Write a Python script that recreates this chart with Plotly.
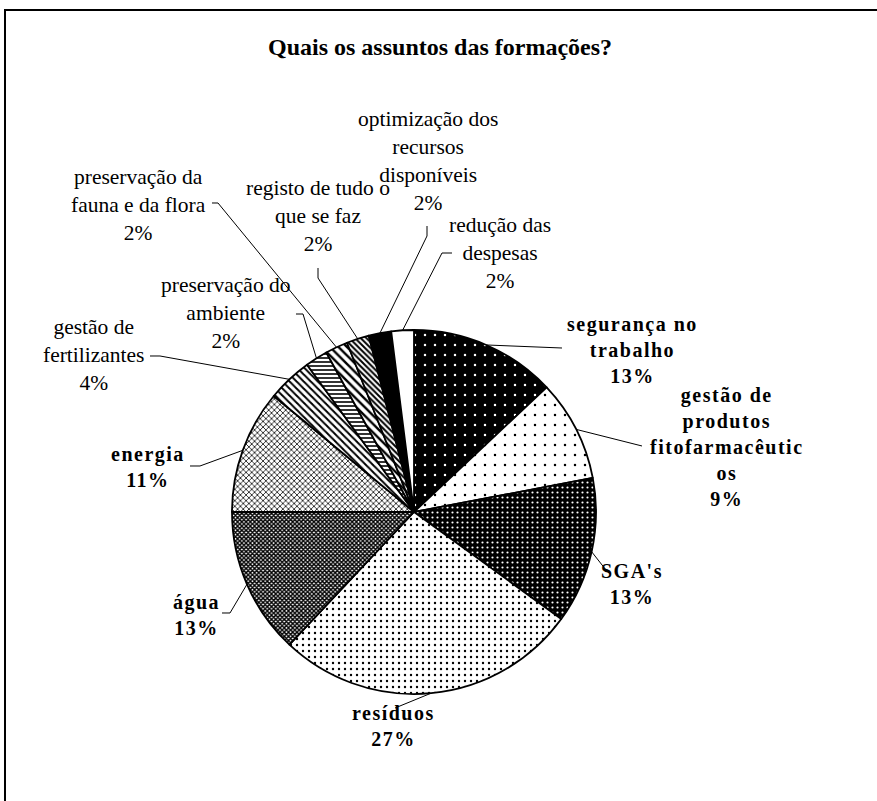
import math
import plotly.graph_objects as go

# ---------------- data ----------------
categories = [
    "segurança no trabalho",
    "gestão de produtos fitofarmacêuticos",
    "SGA's",
    "resíduos",
    "água",
    "energia",
    "gestão de fertilizantes",
    "preservação do ambiente",
    "preservação da fauna e da flora",
    "registo de tudo o que se faz",
    "optimização dos recursos disponíveis",
    "redução das despesas",
]
values = [13, 9, 13, 27, 13, 11, 4, 2, 2, 2, 2, 2]
display_labels = [
    "segurança no<br>trabalho",
    "gestão de<br>produtos<br>fitofarmacêutic<br>os",
    "SGA's",
    "resíduos",
    "água",
    "energia",
    "gestão de<br>fertilizantes",
    "preservação do<br>ambiente",
    "preservação da<br>fauna e da flora",
    "registo de tudo o<br>que se faz",
    "optimização dos<br>recursos<br>disponíveis",
    "redução das<br>despesas",
]
bold_label = [True, True, True, True, True, True, False, False, False, False, False, False]

# ---------------- styles ----------------
W, H = 877, 801
patterns = [
    dict(shape=".", bgcolor="black", fgcolor="white", size=10, solidity=0.05),
    dict(shape=".", bgcolor="white", fgcolor="black", size=10, solidity=0.05),
    dict(shape=".", bgcolor="black", fgcolor="white", size=5, solidity=0.15),
    dict(shape=".", bgcolor="white", fgcolor="black", size=6, solidity=0.12),
    dict(shape="x", bgcolor="white", fgcolor="black", size=3, solidity=0.7),
    dict(shape="x", bgcolor="white", fgcolor="black", size=4, solidity=0.35),
    dict(shape="\\", bgcolor="white", fgcolor="black", size=5, solidity=0.4),
    dict(shape="-", bgcolor="white", fgcolor="black", size=4, solidity=0.4),
    dict(shape="\\", bgcolor="white", fgcolor="black", size=6, solidity=0.4),
    dict(shape="\\", bgcolor="white", fgcolor="black", size=4, solidity=0.5),
    dict(shape="", bgcolor="black", fgcolor="black", size=4, solidity=0.5),
    dict(shape="", bgcolor="white", fgcolor="white", size=4, solidity=0.5),
]
slice_colors = ["black", "white", "black", "white", "#555", "#999", "#bbb", "#bbb",
                "#bbb", "#999", "black", "white"]

# pie placement (pixels)
CX, CY, R = 414, 512, 182

# label text centres and leader start points (pixels)
label_pos = [
    (632, 350), (727, 447), (632, 584), (393, 726), (196, 615), (148, 467),
    (93, 355), (226, 313), (138, 205), (318, 216), (428, 161), (500, 253),
]
leader_start = [
    [(562, 348)], [(642, 446)], [(606, 570)], [(395, 708)], [(222, 613), (230, 613)],
    [(190, 466), (200, 466)], [(150, 356), (160, 356)], [(296, 314), (303, 314)],
    [(212, 203), (218, 203)], [(318, 268), (318, 278)], [(427, 226), (427, 236)],
    [(452, 253), (442, 253)],
]

FONT = "Liberation Serif"
NORMAL_SIZE = 21.5
BOLD_SIZE = 20


def px2paper(x, y):
    return x / W, 1 - y / H


fig = go.Figure(
    go.Pie(
        labels=categories,
        values=values,
        sort=False,
        direction="clockwise",
        rotation=0,
        textinfo="none",
        hoverinfo="label+percent",
        marker=dict(colors=slice_colors, line=dict(color="black", width=1.8),
                    pattern=dict(
                        shape=[p["shape"] for p in patterns],
                        bgcolor=[p["bgcolor"] for p in patterns],
                        fgcolor=[p["fgcolor"] for p in patterns],
                        size=[p["size"] for p in patterns],
                        solidity=[p["solidity"] for p in patterns],
                        fillmode="replace",
                    )),
        domain=dict(x=[(CX - R) / W, (CX + R) / W], y=[1 - (CY + R) / H, 1 - (CY - R) / H]),
        showlegend=False,
    )
)

total = sum(values)
cum = 0.0
annotations = []
shapes = []
for i, v in enumerate(values):
    frac_mid = (cum + v / 2) / total
    cum += v
    theta = 2 * math.pi * frac_mid
    ex, ey = CX + R * math.sin(theta), CY - R * math.cos(theta)
    pts = leader_start[i] + [(ex, ey)]
    path = "M " + " L ".join(f"{px2paper(x, y)[0]:.5f},{px2paper(x, y)[1]:.5f}" for x, y in pts)
    shapes.append(dict(type="path", xref="paper", yref="paper", path=path,
                       line=dict(color="black", width=1)))
    pct = round(v / total * 100)
    txt = f"{display_labels[i]}<br>{pct}%"
    if bold_label[i]:
        txt = f"<b><span style='letter-spacing:1.5px'>{txt}</span></b>"
        size = BOLD_SIZE
    else:
        size = NORMAL_SIZE
    lx, ly = px2paper(*label_pos[i])
    annotations.append(dict(x=lx, y=ly, xref="paper", yref="paper", text=txt,
                            showarrow=False, align="center", xanchor="center", yanchor="middle",
                            font=dict(family=FONT, size=size, color="black")))

# title
tx, ty = px2paper(440, 47)
annotations.append(dict(x=tx, y=ty, xref="paper", yref="paper",
                        text="<b>Quais os assuntos das formações?</b>", showarrow=False,
                        xanchor="center", yanchor="middle",
                        font=dict(family=FONT, size=24, color="black")))

# chart border (only top and left edges visible in the frame)
bx0, by0 = px2paper(5, 820)
bx1, by1 = px2paper(890, 10)
shapes.append(dict(type="path", xref="paper", yref="paper",
                   path=f"M {bx0:.5f},{by0:.5f} L {bx0:.5f},{by1:.5f} L {bx1:.5f},{by1:.5f}",
                   line=dict(color="black", width=2)))

fig.update_layout(
    width=W, height=H,
    margin=dict(l=0, r=0, t=0, b=0),
    paper_bgcolor="white", plot_bgcolor="white",
    annotations=annotations, shapes=shapes,
    font=dict(family=FONT, color="black"),
)
fig.write_html("out.html", config={"displayModeBar": False},
               post_script="document.body.style.margin='0';document.body.style.overflow='hidden';")
